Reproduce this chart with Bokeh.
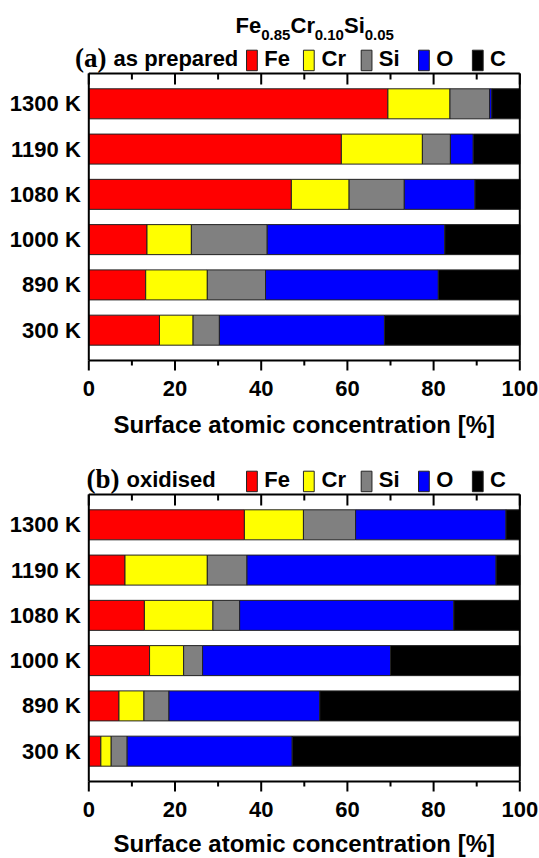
from bokeh.plotting import figure
from bokeh.models import Range1d, ColumnDataSource
from bokeh.core.properties import value
from bokeh.layouts import column
from bokeh.embed import file_html
from bokeh.resources import INLINE

temps = ["1300 K", "1190 K", "1080 K", "1000 K", "890 K", "300 K"]
elements = ["Fe", "Cr", "Si", "O", "C"]
colors = ["#ff0000", "#ffff00", "#808080", "#0000ff", "#000000"]

prep_fe = [69.4, 58.6, 47.0, 13.5, 13.2, 16.4]
prep_cr = [14.4, 18.8, 13.4, 10.3, 14.3, 7.8]
prep_si = [9.2, 6.5, 12.8, 17.6, 13.5, 6.1]
prep_o = [0.5, 5.3, 16.4, 41.2, 40.1, 38.3]
prep_c = [6.5, 10.8, 10.4, 17.4, 18.9, 31.4]

ox_fe = [36.1, 8.4, 12.9, 14.1, 7.0, 2.8]
ox_cr = [13.7, 19.1, 15.9, 7.9, 5.8, 2.4]
ox_si = [12.1, 9.2, 6.2, 4.4, 5.8, 3.7]
ox_o = [34.9, 57.8, 49.7, 43.6, 35.0, 38.3]
ox_c = [3.2, 5.5, 15.3, 30.0, 46.4, 52.8]

x_ticks = [0, 20, 40, 60, 80, 100]
x_minor = [10, 30, 50, 70, 90]
x_tick_labels = ["0", "20", "40", "60", "80", "100"]
x_title = "Surface atomic concentration [%]"

SANS = value("Liberation Sans")
SERIF = value("Liberation Serif")

# geometry (pixels per data unit)
PXX = 4.31
PXU = 45.27
X0PX = 88.3          # page x of value 0
YBOT = -0.67
YTOP = 5.67
FIG_W = 539
X_START = -X0PX / PXX
X_END = X_START + FIG_W / PXX


def yup(px):
    return YTOP + px / PXU


def ydown(px):
    return YBOT - px / PXU


sw_left = [36.6, 49.8, 63.2, 76.5, 89.0]
sw_w = 2.5
lab_x = [40.7, 54.0, 67.3, 80.6, 93.1]


def make_panel(vals, tag, desc, tag_x, desc_x, above_px, below_px, title_px, with_title):
    ypos = list(range(len(temps)))[::-1]
    data = dict(y=ypos, t=temps)
    for e, v in zip(elements, vals):
        data[e] = v
    src = ColumnDataSource(data)

    p = figure(frame_width=FIG_W, frame_height=above_px + below_px,
               x_range=Range1d(X_START, X_END),
               y_range=Range1d(ydown(below_px), YBOT + above_px / PXU),
               output_backend="svg", toolbar_location=None,
               min_border_left=0, min_border_right=0,
               min_border_top=0, min_border_bottom=0,
               x_axis_location=None, y_axis_location=None)
    p.grid.visible = False
    p.outline_line_color = None
    p.background_fill_color = "white"
    p.border_fill_color = "white"

    p.hbar_stack(elements, y="y", height=0.663, color=colors, source=src,
                 line_color="#222222", line_width=1)

    # frame box of the bar area
    p.segment(x0=[0, 0, 0, 100], y0=[YTOP, YBOT, YBOT, YBOT],
              x1=[100, 100, 0, 100], y1=[YTOP, YBOT, YTOP, YTOP],
              line_color="black", line_width=2)
    # inward ticks on the top edge
    p.segment(x0=x_ticks, y0=[YTOP] * len(x_ticks), x1=x_ticks,
              y1=[YTOP - 11 / PXU] * len(x_ticks), line_color="black", line_width=2)
    p.segment(x0=x_minor, y0=[YTOP] * len(x_minor), x1=x_minor,
              y1=[YTOP - 6 / PXU] * len(x_minor), line_color="black", line_width=2)
    # outward ticks on the bottom edge
    p.segment(x0=x_ticks, y0=[YBOT] * len(x_ticks), x1=x_ticks,
              y1=[ydown(10)] * len(x_ticks), line_color="black", line_width=2)
    p.segment(x0=x_minor, y0=[YBOT] * len(x_minor), x1=x_minor,
              y1=[ydown(5)] * len(x_minor), line_color="black", line_width=2)
    # tick labels
    p.text(x=x_ticks, y=[ydown(28)] * len(x_ticks), text=x_tick_labels, text_font=SANS,
           text_font_style="bold", text_font_size="22px", text_align="center",
           text_baseline="middle", text_color="black")
    # axis title
    p.text(x=[50], y=[ydown(title_px)], text=[x_title], text_font=SANS,
           text_font_style="bold", text_font_size="24px", text_align="center",
           text_baseline="middle", text_color="black")

    # category labels
    p.text(x=-8 / PXX, y="y", text="t", source=src, text_font=SANS, text_font_style="bold",
           text_font_size="22px", text_align="right", text_baseline="middle",
           text_color="black")

    # legend row
    mid_y = yup(15)
    p.text(x=[tag_x], y=[mid_y], text=[tag], text_font=SERIF, text_font_style="bold",
           text_font_size="27px", text_baseline="middle", text_color="black")
    p.text(x=[desc_x], y=[mid_y], text=[desc], text_font=SANS, text_font_style="bold",
           text_font_size="22px", text_baseline="middle", text_color="black")
    p.quad(left=sw_left, right=[v + sw_w for v in sw_left],
           bottom=[yup(2.8)] * len(sw_left), top=[yup(23.3)] * len(sw_left),
           fill_color=colors, line_color="#222222", line_width=1)
    p.text(x=lab_x, y=[mid_y] * len(lab_x), text=elements, text_font=SANS,
           text_font_style="bold", text_font_size="22px", text_baseline="middle",
           text_color="black")

    if with_title:
        main = [("Fe", 34.04), ("Cr", 46.8), ("Si", 59.2)]
        subs = [("0.85", 40.0), ("0.10", 52.4), ("0.05", 64.0)]
        p.text(x=[m[1] for m in main], y=[yup(47.5)] * 3, text=[m[0] for m in main],
               text_font=SANS, text_font_style="bold", text_font_size="22px",
               text_baseline="middle", text_color="black")
        p.text(x=[s[1] for s in subs], y=[yup(38)] * 3, text=[s[0] for s in subs],
               text_font=SANS, text_font_style="bold", text_font_size="15px",
               text_baseline="middle", text_color="black")
    return p


pa = make_panel([prep_fe, prep_cr, prep_si, prep_o, prep_c], "(a)", "as prepared",
                -3.2, 5.75, 360, 87, 64, True)
pb = make_panel([ox_fe, ox_cr, ox_si, ox_o, ox_c], "(b)", "oxidised",
                -0.53, 8.75, 334, 77, 62, False)

layout = column(pa, pb, spacing=0)
open("out.html", "w").write(file_html(layout, INLINE))
